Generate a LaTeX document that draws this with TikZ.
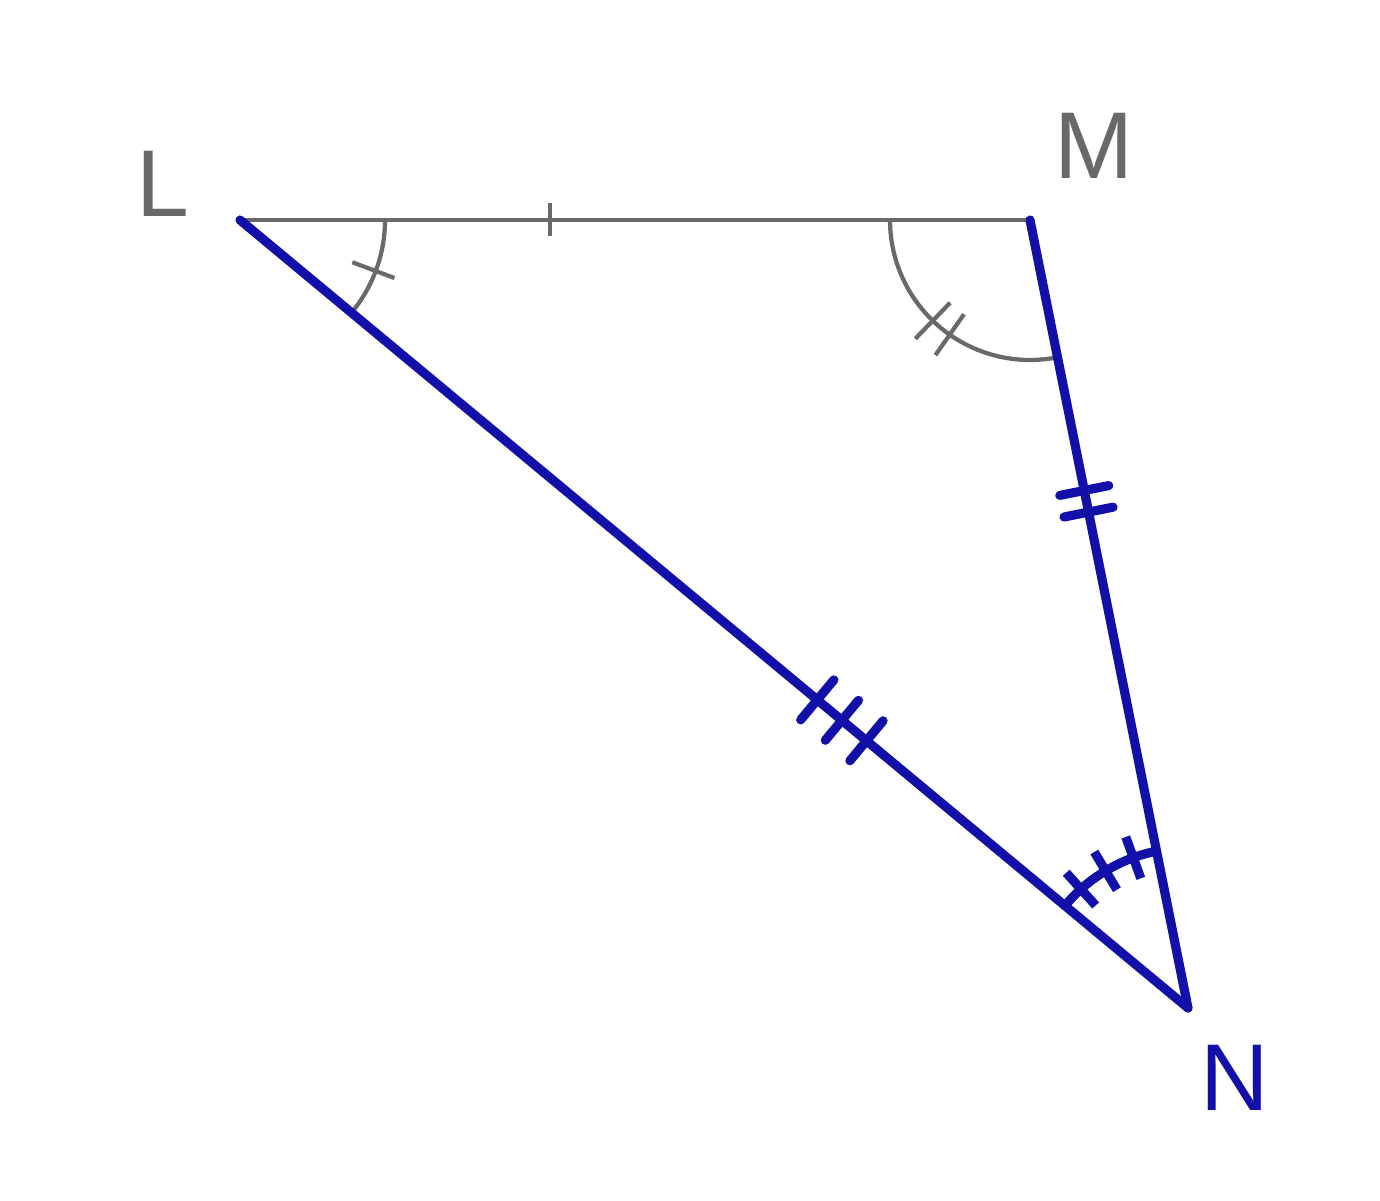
\documentclass[tikz,border=0pt]{standalone}
\usepackage{fontspec}
\setmainfont{Liberation Sans}
\usetikzlibrary{calc,decorations.markings}
\definecolor{lgray}{RGB}{105,105,105}
\definecolor{lblue}{RGB}{18,16,168}
\begin{document}
\begin{tikzpicture}[
  grayline/.style={draw=lgray, line width=1.2pt},
  blueline/.style={draw=lblue, line width=2.6pt},
  lbl/.style={font=\fontsize{27}{30}\selectfont, inner sep=0pt},
  onetick/.style={decoration={markings, mark=at position #1 with {\draw[grayline] (0,-0.16)--(0,0.17);}}, postaction={decorate}},
  twoticks/.style={decoration={markings, mark=at position #1 with {\draw[blueline] (-0.11,-0.25)--(-0.11,0.25); \draw[blueline] (0.11,-0.25)--(0.11,0.25);}}, postaction={decorate}},
  threeticks/.style={decoration={markings, mark=at position #1 with {\draw[blueline] (-0.32,-0.26)--(-0.32,0.26); \draw[blueline] (0,-0.26)--(0,0.26); \draw[blueline] (0.32,-0.26)--(0.32,0.26);}}, postaction={decorate}}
]
\useasboundingbox (0,0) rectangle (13.8,12);
\coordinate (L) at (2.40,9.80);
\coordinate (M) at (10.30,9.80);
\coordinate (N) at (11.88,1.92);
% labels
\node[lbl, text=lgray] (Llab) at (1.63,10.16) {L};
\node[lbl, text=lgray] (Mlab) at (10.94,10.54) {M};
\node[lbl, text=lblue] (Nlab) at (12.35,1.22) {N};
% gray side and angle arcs
\draw[grayline, onetick=0.392] (L) -- (M);
\draw[grayline] ($(L)+(0:1.45)$) arc (0:-39.7:1.45);
\draw[grayline] ($(L)+(-20.6:1.2)$) -- ($(L)+(-20.6:1.65)$);
\draw[grayline] ($(M)+(180:1.4)$) arc (180:281.3:1.4);
\draw[grayline] ($(M)+(226:1.15)$) -- ($(M)+(226:1.65)$);
\draw[grayline] ($(M)+(235:1.15)$) -- ($(M)+(235:1.65)$);
% blue sides
\draw[blueline, line cap=round, twoticks=0.357] (M) -- (N);
\draw[blueline, line cap=round, threeticks=0.635] (L) -- (N);
% angle at N
\draw[blueline] ($(N)+(101.3:1.6)$) arc (101.3:140.3:1.6);
\foreach \a in {110,121,132}{
  \draw[blueline] ($(N)+(\a:1.38)$) -- ($(N)+(\a:1.82)$);
}
\end{tikzpicture}
\end{document}
